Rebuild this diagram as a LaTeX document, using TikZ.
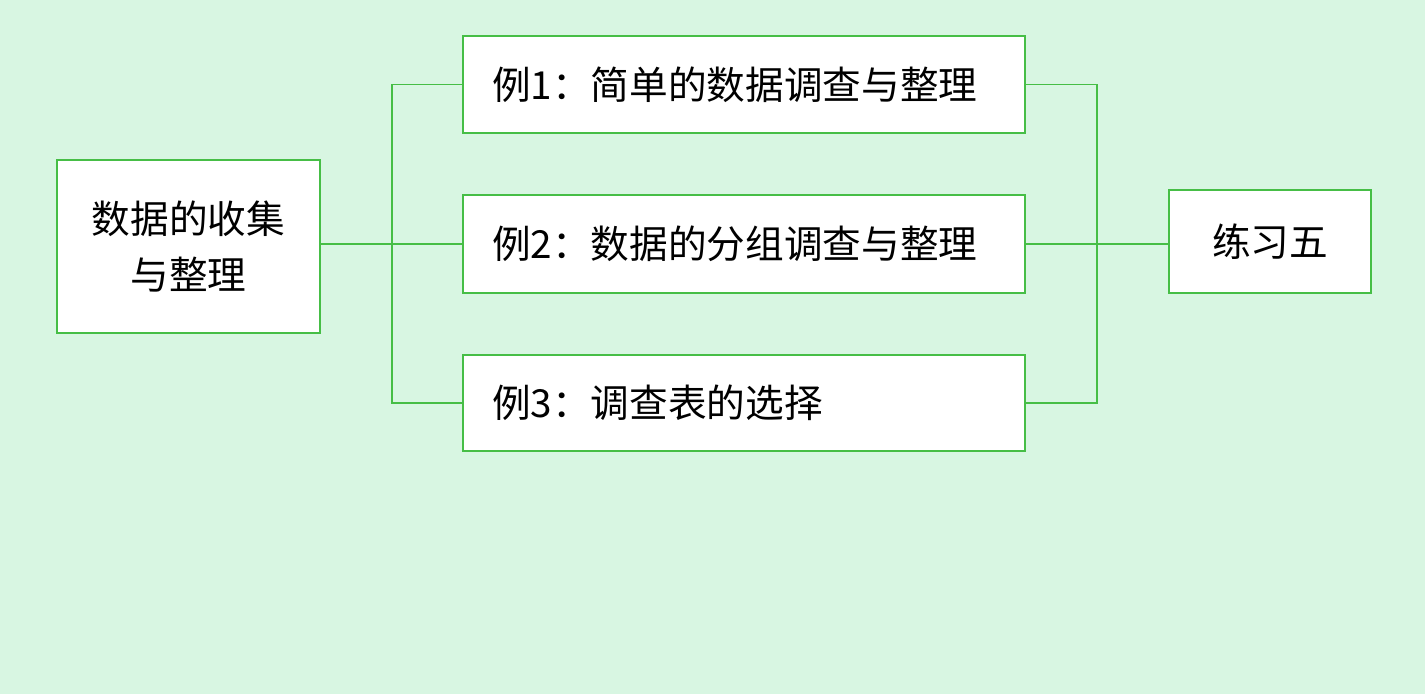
\documentclass[tikz,border=0pt]{standalone}
\usepackage{fontspec}
\usepackage{tikz}
\usetikzlibrary{positioning,calc}
\newfontfamily\cjk{Noto Sans CJK SC}
\definecolor{pagegreen}{RGB}{216,246,226}
\definecolor{linegreen}{RGB}{70,190,70}

\begin{document}
\begin{tikzpicture}[every node/.style={font=\cjk\fontsize{22}{32}\selectfont},
    box/.style={draw=linegreen,line width=1pt,fill=white},
    link/.style={draw=linegreen,line width=1pt}]
  \fill[pagegreen] (0,0) rectangle (28.5,-13.88);
  \useasboundingbox (0,0) rectangle (28.5,-13.88);
  \node[box,align=center,minimum width=5.26cm,minimum height=3.46cm] (src) at (3.77,-4.93)
    {数据的收集\\与整理};
  \node[box,align=left,text width=10.08cm,inner xsep=0.58cm,minimum height=1.94cm] (e1) at (14.88,-1.69)
    {例1：简单的数据调查与整理};
  \node[box,align=left,text width=10.08cm,inner xsep=0.58cm,minimum height=1.96cm] (e2) at (14.88,-4.88)
    {例2：数据的分组调查与整理};
  \node[box,align=left,text width=10.08cm,inner xsep=0.58cm,minimum height=1.92cm] (e3) at (14.88,-8.06)
    {例3：调查表的选择};
  \node[box,minimum width=4.04cm,minimum height=2.06cm] (ex) at (25.4,-4.83) {练习五};
  % left fork
  \coordinate (lf) at (7.84,0);
  \draw[link] (src.east |- e2.west) -- (e2.west);
  \draw[link] (e1.west) -- (e1.west -| lf) -- (e3.west -| lf) -- (e3.west);
  % right fork
  \coordinate (rf) at (21.94,0);
  \draw[link] (e1.east) -- (e1.east -| rf) -- (e3.east -| rf) -- (e3.east);
  \draw[link] (e2.east) -- (e2.east -| ex.west);
\end{tikzpicture}
\end{document}
